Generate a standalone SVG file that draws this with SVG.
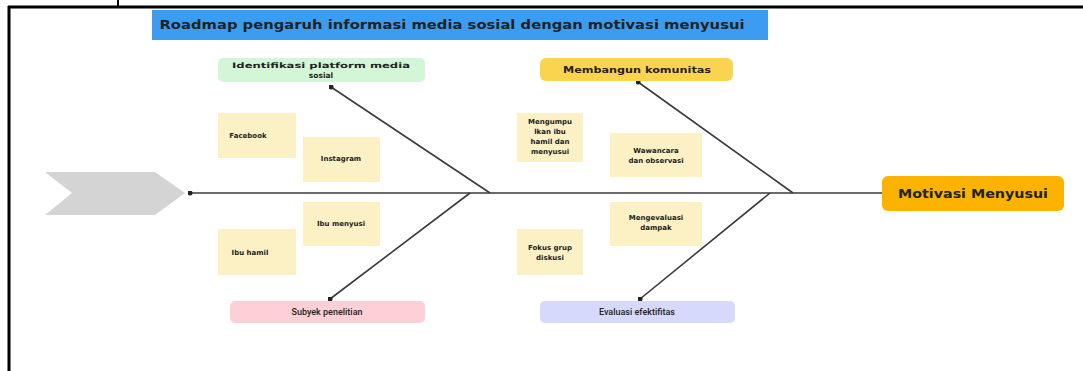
<svg xmlns="http://www.w3.org/2000/svg" width="1083" height="371" viewBox="0 0 1083 371">
<style>
.bd{stroke:#000;fill:none}
.bone{stroke:#3a3a3a;stroke-width:1.6;fill:none}
.note{fill:#fcf1c4}
.tw{font-family:"DejaVu Sans",sans-serif;font-weight:bold;fill:#222;text-anchor:middle}
.tn{font-family:Roboto,"Liberation Sans",sans-serif;font-weight:500;fill:#222;text-anchor:middle;font-size:9px}
.sm{font-size:7px}
</style>
<defs>
<marker id="dot" viewBox="0 0 6 6" refX="3" refY="3" markerWidth="5" markerHeight="5" markerUnits="userSpaceOnUse"><circle cx="3" cy="3" r="3" fill="#222"/></marker>
</defs>
<rect width="1083" height="371" fill="#fff"/>
<g id="frame">
<line class="bd" x1="8" y1="7" x2="1083" y2="7" stroke-width="3"/>
<line class="bd" x1="118" y1="0" x2="118" y2="7" stroke-width="2"/>
<line class="bd" x1="9" y1="6" x2="9" y2="371" stroke-width="3"/>
</g>
<g id="title">
<rect x="152" y="10" width="616" height="30" fill="#3c9cf0"/>
<text class="tw" x="452" y="29" font-size="12" textLength="585" lengthAdjust="spacingAndGlyphs">Roadmap pengaruh informasi media sosial dengan motivasi menyusui</text>
</g>
<g id="tail">
<polygon points="45,172 155,172 185,193 155,215 45,215 72,193" fill="#d4d4d4"/>
</g>
<g id="connectors">
<line class="bone" x1="190" y1="193" x2="882" y2="193" stroke="#555" marker-start="url(#dot)"/>
<line class="bone" x1="490" y1="193" x2="331" y2="87" marker-end="url(#dot)"/>
<line class="bone" x1="470" y1="193" x2="330" y2="299" marker-end="url(#dot)"/>
<line class="bone" x1="793" y1="193" x2="638" y2="82" marker-end="url(#dot)"/>
<line class="bone" x1="770" y1="193" x2="640" y2="299" marker-end="url(#dot)"/>
</g>
<g id="head">
<rect x="882" y="176" width="182" height="35" rx="6" fill="#fbb300"/>
<text class="tw" x="973" y="198" font-size="13" textLength="150" lengthAdjust="spacingAndGlyphs">Motivasi Menyusui</text>
</g>
<g id="cat-identifikasi">
<rect x="218" y="58" width="207" height="24" rx="5" fill="#d3f6d6"/>
<text class="tw" font-size="7.5" x="321" y="68" textLength="178" lengthAdjust="spacingAndGlyphs">Identifikasi platform media</text>
<text class="tw" font-size="7.5" x="321" y="78">sosial</text>
</g>
<g id="cat-komunitas">
<rect x="540" y="58" width="193" height="23" rx="6" fill="#fbd44f"/>
<text class="tw" font-size="8" x="637" y="72.5" textLength="148" lengthAdjust="spacingAndGlyphs">Membangun komunitas</text>
</g>
<g id="cat-subyek">
<rect x="230" y="301" width="195" height="22" rx="5" fill="#fdd0d6"/>
<text class="tn" x="327" y="315">Subyek penelitian</text>
</g>
<g id="cat-evaluasi">
<rect x="540" y="301" width="195" height="22" rx="5" fill="#d6d9fb"/>
<text class="tn" x="637" y="315">Evaluasi efektifitas</text>
</g>
<g id="note-facebook">
<rect class="note" x="218" y="113" width="78" height="45"/>
<text class="tw sm" x="248" y="138">Facebook</text>
</g>
<g id="note-instagram">
<rect class="note" x="303" y="137" width="77" height="45"/>
<text class="tw sm" x="341" y="161">Instagram</text>
</g>
<g id="note-ibu-menyusi">
<rect class="note" x="303" y="202" width="77" height="44"/>
<text class="tw sm" x="341" y="226">Ibu menyusi</text>
</g>
<g id="note-ibu-hamil">
<rect class="note" x="218" y="229" width="78" height="46"/>
<text class="tw sm" x="250" y="255">Ibu hamil</text>
</g>
<g id="note-mengumpulkan">
<rect class="note" x="517" y="113" width="66" height="49"/>
<text class="tw sm" x="550" y="124">Mengumpu</text>
<text class="tw sm" x="550" y="134">lkan ibu</text>
<text class="tw sm" x="550" y="144">hamil dan</text>
<text class="tw sm" x="550" y="154">menyusui</text>
</g>
<g id="note-wawancara">
<rect class="note" x="610" y="133" width="92" height="44"/>
<text class="tw sm" x="656" y="153">Wawancara</text>
<text class="tw sm" x="656" y="163">dan observasi</text>
</g>
<g id="note-mengevaluasi">
<rect class="note" x="610" y="202" width="92" height="44"/>
<text class="tw sm" x="656" y="220">Mengevaluasi</text>
<text class="tw sm" x="656" y="230">dampak</text>
</g>
<g id="note-fokus">
<rect class="note" x="517" y="229" width="66" height="46"/>
<text class="tw sm" x="550" y="250">Fokus grup</text>
<text class="tw sm" x="550" y="260">diskusi</text>
</g>
</svg>
